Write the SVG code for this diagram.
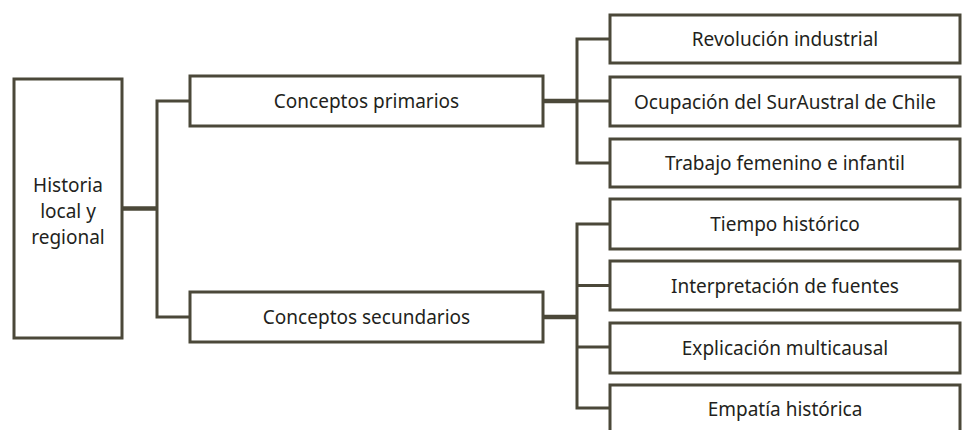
<svg xmlns="http://www.w3.org/2000/svg" width="966" height="430" viewBox="0 0 966 430">
<style>
.box{fill:#fff;stroke:#4b4839;stroke-width:3}
.ln{fill:none;stroke:#4b4839;stroke-width:3}
.thk{fill:none;stroke:#4b4839;stroke-width:4.5}
text{font-family:"Noto Sans","Open Sans",sans-serif;font-size:19px;fill:#231f20;text-anchor:middle;dominant-baseline:central}
</style>
<rect width="966" height="430" fill="#fff"/>
<g id="connectors">
<path class="thk" d="M122 208.5H157"/>
<path class="ln" d="M190 101H157V317H190"/>
<path class="thk" d="M543 101H577"/>
<path class="ln" d="M610 39H577V163H610M577 101H610"/>
<path class="thk" d="M543 317H577"/>
<path class="ln" d="M610 224H577V408H610M577 285.5H610M577 347H610"/>
</g>
<g id="n-historia"><rect class="box" x="14" y="79" width="108" height="259"/><text x="68" y="185">Historia</text><text x="68" y="211">local y</text><text x="68" y="237">regional</text></g>
<g id="n-primarios"><rect class="box" x="190" y="76" width="353" height="50"/><text x="366.5" y="101">Conceptos primarios</text></g>
<g id="n-secundarios"><rect class="box" x="190" y="292" width="353" height="50"/><text x="366.5" y="317">Conceptos secundarios</text></g>
<g id="n-revolucion"><rect class="box" x="610" y="15" width="350" height="48"/><text x="785" y="39">Revolución industrial</text></g>
<g id="n-ocupacion"><rect class="box" x="610" y="77" width="350" height="49"/><text x="785" y="101.5">Ocupación del SurAustral de Chile</text></g>
<g id="n-trabajo"><rect class="box" x="610" y="139" width="350" height="48"/><text x="785" y="163">Trabajo femenino e infantil</text></g>
<g id="n-tiempo"><rect class="box" x="610" y="199" width="350" height="50"/><text x="785" y="224">Tiempo histórico</text></g>
<g id="n-interpretacion"><rect class="box" x="610" y="261" width="350" height="49"/><text x="785" y="285.5">Interpretación de fuentes</text></g>
<g id="n-explicacion"><rect class="box" x="610" y="323" width="350" height="50"/><text x="785" y="348">Explicación multicausal</text></g>
<g id="n-empatia"><rect class="box" x="610" y="385" width="350" height="50"/><text x="785" y="409">Empatía histórica</text></g>
</svg>
